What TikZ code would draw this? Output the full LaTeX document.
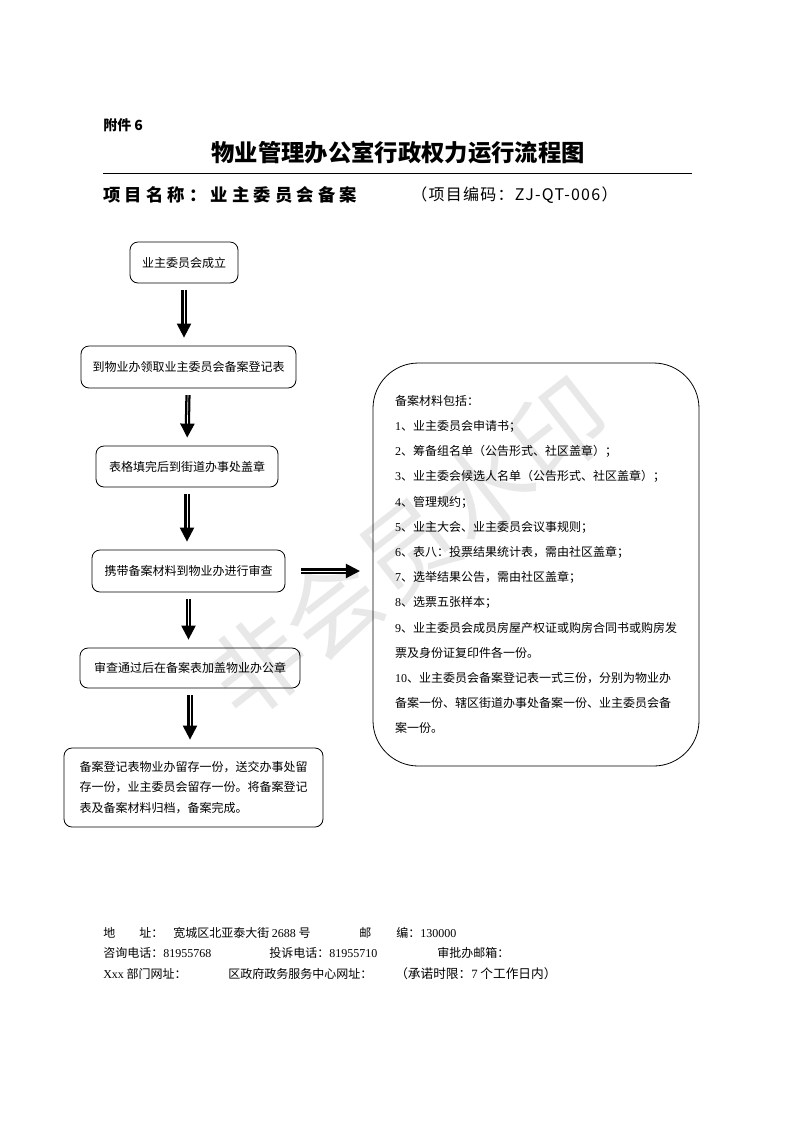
\documentclass[tikz,border=0pt]{standalone}
\usepackage{fontspec}
\setmainfont{Noto Sans CJK SC}
\newfontfamily\numfont{Liberation Serif}
\usetikzlibrary{arrows.meta}

\begin{document}
\begin{tikzpicture}[x=0.75pt, y=-0.75pt,
  proc/.style={draw, line width=0.6pt, rounded corners=6pt, inner sep=0pt,
    font=\fontsize{9}{11}\selectfont},
  flow/.style={double, line width=1.7pt, double distance=0.5pt,
    -{Triangle[width=10.5pt,length=10.5pt]}, shorten <=5pt, shorten >=6pt},
  foot/.style={anchor=west, inner sep=0pt, font=\fontsize{9}{11}\selectfont}]
  \useasboundingbox (0,0) rectangle (793,1122);
  % watermark
  \node[text=black!9, rotate=38, font=\fontsize{72}{72}\selectfont] (wm) at (408,548) {非会员水印};
  % heading
  \node[anchor=west, inner sep=0pt, font=\fontsize{10.5}{12}\bfseries] (att) at (103,125) {附件 6};
  \node[inner sep=0pt, font=\fontsize{17.5}{20}\bfseries] (title) at (398,153) {物业管理办公室行政权力运行流程图};
  \draw[line width=0.75pt] (103,173) -- (692,173);
  \node[anchor=west, inner sep=0pt, font=\fontsize{13}{15}\bfseries\addfontfeature{LetterSpace=24}] (proj) at (103,195) {项目名称：业主委员会备案};
  \node[anchor=west, inner sep=0pt, font=\fontsize{12}{14}\selectfont\addfontfeature{LetterSpace=8}] (code) at (411,195) {（项目编码：ZJ-QT-006）};
  % steps
  \node[proc, minimum width=81pt, minimum height=30.75pt] (b1) at (184,262.5) {业主委员会成立};
  \node[proc, minimum width=161.25pt, minimum height=31.5pt] (b2) at (188.5,367) {到物业办领取业主委员会备案登记表};
  \node[proc, minimum width=136.5pt, minimum height=30.75pt] (b3) at (187,466.5) {表格填完后到街道办事处盖章};
  \node[proc, minimum width=144.75pt, minimum height=31.5pt] (b4) at (188.5,571) {携带备案材料到物业办进行审查};
  \node[proc, minimum width=165pt, minimum height=30pt] (b5) at (190,668) {审查通过后在备案表加盖物业办公章};
  \node[proc, minimum width=194.25pt, minimum height=59.25pt, align=left,
    font=\fontsize{9}{15.4}\selectfont] (b6) at (193.5,787.5)
    {备案登记表物业办留存一份，送交办事处留\\存一份，业主委员会留存一份。将备案登记\\表及备案材料归档，备案完成。};
  \node[proc, rounded corners=34pt, minimum width=244.5pt, minimum height=302.25pt, align=left,
    font=\fontsize{9}{18.9}\selectfont] (materials) at (536,564.5)
    {备案材料包括：\\
     {\numfont 1}、业主委员会申请书；\\
     {\numfont 2}、筹备组名单（公告形式、社区盖章）；\\
     {\numfont 3}、业主委会候选人名单（公告形式、社区盖章）；\\
     {\numfont 4}、管理规约；\\
     {\numfont 5}、业主大会、业主委员会议事规则；\\
     {\numfont 6}、表八：投票结果统计表，需由社区盖章；\\
     {\numfont 7}、选举结果公告，需由社区盖章；\\
     {\numfont 8}、选票五张样本；\\
     {\numfont 9}、业主委员会成员房屋产权证或购房合同书或购房发\\
     票及身份证复印件各一份。\\
     {\numfont 10}、业主委员会备案登记表一式三份，分别为物业办\\
     备案一份、辖区街道办事处备案一份、业主委员会备\\
     案一份。};
  % connectors
  \draw[flow] (b1) -- (b1 |- b2.north);
  \draw[flow] (b2) -- (b3 |- b3.north);
  \draw[flow] (b3) -- (b3 |- b4.north);
  \draw[flow] (b4) -- (b4 |- b5.north);
  \draw[flow] (b5) -- (b5 |- b6.north);
  \draw[flow, shorten <=12pt, shorten >=9.5pt] (b4) -- (b4 -| materials.west);
  % footer
  \node[foot] (f1) at (103,933) {地};
  \node[foot] (f2) at (139,933) {址：};
  \node[foot] (f3) at (173,933) {宽城区北亚泰大街 {\numfont 2688} 号};
  \node[foot] (f4) at (359,933) {邮};
  \node[foot] (f5) at (396,933) {编：{\numfont 130000}};
  \node[foot] (f6) at (103,953) {咨询电话：{\numfont 81955768}};
  \node[foot] (f7) at (269,953) {投诉电话：{\numfont 81955710}};
  \node[foot] (f8) at (437,953) {审批办邮箱：};
  \node[foot] (f9) at (103,974) {{\numfont Xxx} 部门网址：};
  \node[foot] (f10) at (228,974) {区政府政务服务中心网址：};
  \node[foot, font=\fontsize{9.5}{11}\selectfont] (f11) at (395,974) {（承诺时限：{\numfont 7} 个工作日内）};
\end{tikzpicture}
\end{document}
